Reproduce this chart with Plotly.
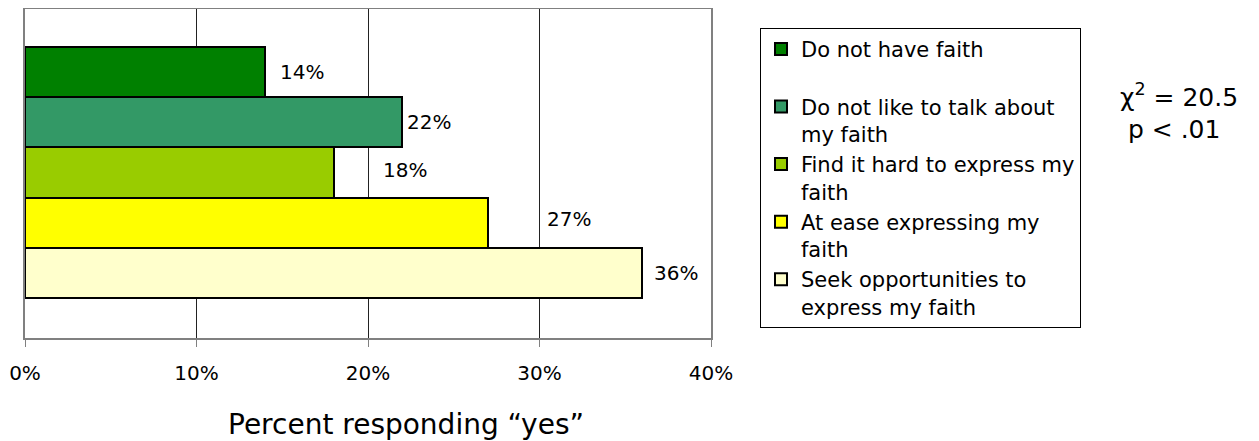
import plotly.graph_objects as go

# survey answers, top to bottom as in the chart
answers = [
    'Do not have faith',
    'Do not like to talk about<br>my faith',
    'Find it hard to express my<br>faith',
    'At ease expressing my<br>faith',
    'Seek opportunities to<br>express my faith',
]
pct_yes = [14, 22, 18, 27, 36]
bar_colors = ['#008000', '#339966', '#99CC00', '#FFFF00', '#FFFFCC']
x_ticks = [0, 10, 20, 30, 40]
x_tick_labels = ['0%', '10%', '20%', '30%', '40%']
x_title = 'Percent responding “yes”'
chi_text = 'χ<sup>2</sup> = 20.5<br> p &lt; .01'

FONT = 'DejaVu Sans, Liberation Sans, Arial, sans-serif'

fig = go.Figure()
for name, val, col in zip(answers, pct_yes, bar_colors):
    # first entry keeps an empty second line in the legend
    legend_name = name if '<br>' in name else name + '<br>\u00a0'
    fig.add_trace(go.Bar(
        y=[name], x=[val], orientation='h', name=legend_name,
        marker=dict(color=col, line=dict(color='black', width=2))))

# label offsets (px) as the labels were dragged in the original
label_dx = [13, 3, 47, 57, 10]
label_dy = [0, 0, 3, 4, 0]
for name, val, dx, dy in zip(answers, pct_yes, label_dx, label_dy):
    fig.add_annotation(
        x=val, y=name, text=f'{val}%', showarrow=False,
        xanchor='left', xshift=dx, yshift=dy,
        font=dict(size=20, color='black', family=FONT))

fig.add_annotation(
    xref='paper', yref='paper', x=1.594, y=0.688, text=chi_text,
    showarrow=False, xanchor='left', yanchor='middle', align='left',
    font=dict(size=25, color='black', family=FONT))

# axis title sits right of centre in the original
fig.add_annotation(
    xref='paper', yref='paper', x=0.555, y=-0.264, text=x_title,
    showarrow=False, xanchor='center', yanchor='middle',
    font=dict(size=28, color='black', family=FONT))

# page body adds 8px around the plot div, so the figure is 8px smaller
fig.update_layout(
    width=1251, height=433,
    margin=dict(l=17, r=548, t=1, b=103),
    paper_bgcolor='white', plot_bgcolor='white',
    barmode='stack', bargap=0,
    font=dict(family=FONT, color='black'),
    legend=dict(
        x=1.0714, y=0.943, xanchor='left', yanchor='top',
        bgcolor='white', bordercolor='black', borderwidth=1,
        font=dict(size=21, family=FONT), valign='top',
        tracegroupgap=0, traceorder='normal'),
)
fig.update_xaxes(
    range=[0, 40], tickvals=x_ticks, ticktext=x_tick_labels,
    showgrid=True, gridcolor='#222', gridwidth=1,
    showline=True, linecolor='#808080', linewidth=2, mirror=True,
    ticks='outside', ticklen=7, tickcolor='#808080',
    ticklabelstandoff=9, tickfont=dict(size=20),
    zeroline=False, automargin=False)
fig.update_yaxes(
    categoryorder='array', categoryarray=answers,
    range=[5.3, -1.26], showticklabels=False, showgrid=False,
    showline=True, linecolor='#808080', linewidth=2, mirror=True,
    ticks='', zeroline=False, automargin=False)

fig.write_html('out.html')
